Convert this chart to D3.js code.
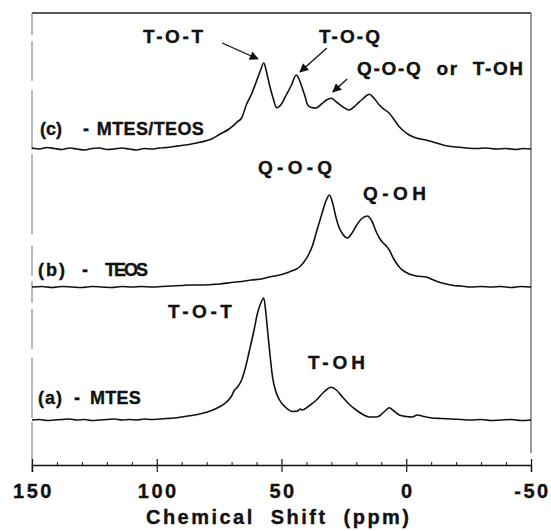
<!DOCTYPE html>
<html>
<head>
<meta charset="utf-8">
<script src="https://cdn.jsdelivr.net/npm/d3@7"></script>
<style>
  body { margin: 0; background: #fff; }
  text { font-family: "Liberation Sans", Arial, sans-serif; font-weight: bold; fill: #111; stroke: #111; stroke-width: 0.35px; }
</style>
</head>
<body>
<div id="chart"></div>
<script>
// spectra: [ppm, intensity above the trace's own baseline]
var mtesTeos = [
  [150, 1], [147, 0], [144, 1.5], [141, 0.5], [138, -0.5], [135, 1], [132, 0], [129, -1],
  [126, 0.5], [123, 1], [120, -0.5], [117, 0], [114, 1], [111, 0], [108, -1], [105, 0.5],
  [102, 0], [99, 1], [96, 1.5], [93, 2.5], [90.8, 3.3], [87, 4.5], [84, 6], [82.8, 6.7],
  [78, 10], [74.8, 14.7], [71, 20], [67.6, 27.3], [66, 31], [64.1, 44], [62, 55], [60.1, 67.3],
  [58.5, 78], [57.1, 86], [56, 77], [54.8, 64], [53.5, 52], [51.9, 41.3], [50, 45], [48.1, 54],
  [46, 64], [44.1, 74], [43, 70], [42.1, 64], [40.5, 52], [39.5, 44], [38, 41.5], [36.1, 41],
  [34, 45], [32, 49], [30.1, 50.7], [28, 47], [25.5, 42.3], [22.8, 39], [21.5, 41], [20.1, 44],
  [17.5, 50], [14.8, 54.7], [13, 51], [10.8, 44], [8.5, 39], [6.8, 35.7], [4.5, 28], [2.8, 22.3],
  [0.5, 17], [-1.2, 14], [-4, 11], [-7.9, 9], [-12, 6], [-15.9, 3.3], [-20, 2], [-24, 1],
  [-28, 0.5], [-32, 1], [-36, 0], [-40, 0.5], [-44, -0.5], [-47, 0.5], [-50, 0]
];

var teos = [
  [150, 0], [146, 0.5], [142, -0.5], [138, 0.5], [134, 0], [130, -0.5], [126, 0.5], [122, 0],
  [118, -0.5], [114, 0.5], [110, 0], [106, 0.5], [102, 0], [98, 0.5], [94, 1], [90, 1.5],
  [86, 2], [82, 2], [78, 2.5], [74.8, 3], [70, 4.5], [66, 5.5], [62, 7], [58, 8], [54.8, 10],
  [50, 12.5], [46, 16], [44, 18], [42.8, 20], [41, 25], [39, 33], [37.5, 42], [36, 55],
  [34.8, 65], [33.6, 75], [32.2, 86], [30.8, 92], [29.5, 84], [28.2, 70], [27, 60], [25.5, 53],
  [23.6, 49], [22, 53], [20.1, 61], [18, 68], [15.6, 71], [13.8, 66], [12, 55], [10.5, 48],
  [9.6, 45], [8, 41], [6.8, 37], [5, 28], [2.8, 20], [1, 16], [-1.2, 13], [-4, 11], [-8, 10],
  [-10, 8], [-13, 5], [-16, 3], [-19, 1.5], [-22, 1], [-26, 0], [-30, 0.5], [-34, 0],
  [-38, 0.5], [-42, -0.5], [-46, 0.5], [-50, 0]
];

var mtes = [
  [150, 0], [147, 0.5], [144, -0.5], [141, 0], [138, 0.5], [135, 1], [132, 0], [129, 0.5],
  [126, -0.5], [123, 0], [120, 0.5], [117, 1], [114, 0], [111, 0.5], [108, 0], [105, 1],
  [102, 0.5], [99, 1], [96, 1.5], [93, 2], [90, 3], [86, 4.5], [82, 6.5], [78, 9.5], [75, 13],
  [72, 18], [70, 24], [68.8, 30], [67.6, 33], [66, 40], [64.5, 52], [62.8, 70], [61, 90],
  [59.6, 107], [58.3, 117], [57.1, 122], [56.3, 108], [55.6, 90], [54.6, 65], [53.6, 43],
  [52.2, 28], [50.8, 20], [48.5, 13], [45.6, 8.5], [43.5, 9], [42.5, 11], [41.6, 10], [39, 14],
  [36, 20], [33, 28], [30.1, 32.7], [28, 30], [25.6, 23], [23, 16], [20.1, 10], [17, 5],
  [14.8, 3], [12, 3], [10.8, 4], [8.5, 9], [6.8, 12.3], [5, 9], [2.8, 5], [0, 3.5], [-2.4, 3],
  [-4.4, 5], [-7, 3.5], [-10.4, 2], [-14, 1.5], [-18, 1], [-22, 0.5], [-26, 0], [-30, 0.5],
  [-34, -0.5], [-38, 0], [-42, 0.5], [-46, -0.5], [-50, 0]
];

var majorTicks = [150, 100, 50, 0, -50];
var minorTicks = [140, 130, 120, 110, 90, 80, 70, 60, 40, 30, 20, 10, -10, -20, -30, -40];
var xTitle = "Chemical  Shift  (ppm)";

// annotations: text, ppm of left edge, height above panel baseline
var cLabels = [
  { text: "T-O-T", ppm: 105.5, h: 106, len: 60, size: 19 },
  { text: "T-O-Q", ppm: 35, h: 106, len: 61, size: 19 },
  { text: "Q-O-Q  or  T-OH", ppm: 19.7, h: 74, len: 166, size: 19 },
  { text: "(c)", ppm: 146.8, h: 14, len: 22, size: 18 },
  { text: "-", ppm: 129.6, h: 14, len: 5, size: 18 },
  { text: "MTES/TEOS", ppm: 124, h: 14, len: 107, size: 18 }
];
var bLabels = [
  { text: "Q-O-Q", ppm: 59.4, h: 113, len: 74, size: 19 },
  { text: "Q-OH", ppm: 17.3, h: 87, len: 63, size: 19 },
  { text: "(b)", ppm: 147.6, h: 11, len: 27, size: 18 },
  { text: "-", ppm: 130, h: 11, len: 5, size: 18 },
  { text: "TEOS", ppm: 120.7, h: 11, len: 43, size: 18 }
];
var aLabels = [
  { text: "T-O-T", ppm: 95.5, h: 102, len: 64, size: 19 },
  { text: "T-OH", ppm: 39.4, h: 51, len: 57, size: 19 },
  { text: "(a)", ppm: 147.6, h: 16, len: 24, size: 18 },
  { text: "-", ppm: 133.2, h: 16, len: 5, size: 18 },
  { text: "MTES", ppm: 126.8, h: 16, len: 51, size: 18 }
];
// arrows in panel (c): from [ppm, h] to [ppm, h]
var cArrows = [
  [[73.8, 106], [59.4, 90]],
  [[31.8, 101], [42.6, 77]],
  [[23.7, 70], [29.4, 57]]
];

var svgWidth = 551;
var svgHeight = 531;

var svg = d3.select("#chart")
  .append("svg")
  .attr("width", svgWidth)
  .attr("height", svgHeight);

var x = d3.scaleLinear()
  .domain([150, -50])
  .range([32, 531]);

var axisY = 465;
var topY = 13;

// each trace gets its own vertical scale, only the baseline differs
function panelScale(base) {
  return d3.scaleLinear().domain([0, 100]).range([base, base - 100]);
}
var yC = panelScale(149);
var yB = panelScale(287);
var yA = panelScale(420);

svg.append("defs").append("marker")
  .attr("id", "head")
  .attr("viewBox", "0 0 10 10")
  .attr("refX", 9)
  .attr("refY", 5)
  .attr("markerWidth", 12)
  .attr("markerHeight", 9)
  .attr("markerUnits", "userSpaceOnUse")
  .attr("orient", "auto")
  .append("path")
  .attr("d", "M0,0 L10,5 L0,10 z")
  .attr("fill", "#111");

// frame
svg.append("line")
  .attr("x1", x(150)).attr("x2", x(-50))
  .attr("y1", topY).attr("y2", topY)
  .attr("stroke", "#222").attr("stroke-width", 1.5);
svg.append("line")
  .attr("x1", x(150)).attr("x2", x(150))
  .attr("y1", topY).attr("y2", axisY + 7)
  .attr("stroke", "#777").attr("stroke-width", 1)
  .attr("stroke-dasharray", "22,6,40,9,60,4,80,12,30,5");
svg.append("line")
  .attr("x1", x(-50)).attr("x2", x(-50))
  .attr("y1", topY).attr("y2", axisY - 12)
  .attr("stroke", "#555").attr("stroke-width", 1.2);

// x axis
var xAxis = svg.append("g")
  .attr("transform", `translate(0, ${axisY})`)
  .call(d3.axisBottom(x).tickValues(majorTicks).tickSizeOuter(0).tickSize(7).tickPadding(12));

xAxis.select(".domain").attr("stroke", "#111").attr("stroke-width", 1.3);
xAxis.selectAll(".tick line")
  .attr("y1", -6)
  .attr("stroke", "#111")
  .attr("stroke-width", 1.2);
xAxis.selectAll(".tick text")
  .style("font-size", "20px")
  .style("letter-spacing", "2.5px")
  .attr("dx", "1px")
  .text(d => d);

svg.append("g")
  .attr("transform", `translate(0, ${axisY})`)
  .call(d3.axisBottom(x).tickValues(minorTicks).tickSizeInner(-3).tickSizeOuter(0).tickFormat(""))
  .call(g => g.select(".domain").remove())
  .selectAll(".tick line")
  .attr("stroke", "#111");

svg.append("text")
  .attr("x", 146)
  .attr("y", 524)
  .attr("textLength", 263)
  .attr("lengthAdjust", "spacing")
  .style("font-size", "20px")
  .style("white-space", "pre")
  .text(xTitle);

// spectra
function drawTrace(data, y) {
  var line = d3.line()
    .x(d => x(d[0]))
    .y(d => y(d[1]))
    .curve(d3.curveMonotoneX);
  svg.append("path")
    .datum(data)
    .attr("d", line)
    .attr("fill", "none")
    .attr("stroke", "#111")
    .attr("stroke-width", 1.6)
    .attr("stroke-linejoin", "round");
}
drawTrace(mtesTeos, yC);
drawTrace(teos, yB);
drawTrace(mtes, yA);

function drawLabels(labels, y) {
  svg.selectAll(null)
    .data(labels)
    .enter()
    .append("text")
    .attr("x", d => x(d.ppm))
    .attr("y", d => y(d.h))
    .attr("textLength", d => d.len)
    .attr("lengthAdjust", "spacing")
    .style("font-size", d => d.size + "px")
    .style("white-space", "pre")
    .text(d => d.text);
}
drawLabels(cLabels, yC);
drawLabels(bLabels, yB);
drawLabels(aLabels, yA);

svg.selectAll(null)
  .data(cArrows)
  .enter()
  .append("line")
  .attr("x1", d => x(d[0][0]))
  .attr("y1", d => yC(d[0][1]))
  .attr("x2", d => x(d[1][0]))
  .attr("y2", d => yC(d[1][1]))
  .attr("stroke", "#111")
  .attr("stroke-width", 1.3)
  .attr("marker-end", "url(#head)");
</script>
</body>
</html>
